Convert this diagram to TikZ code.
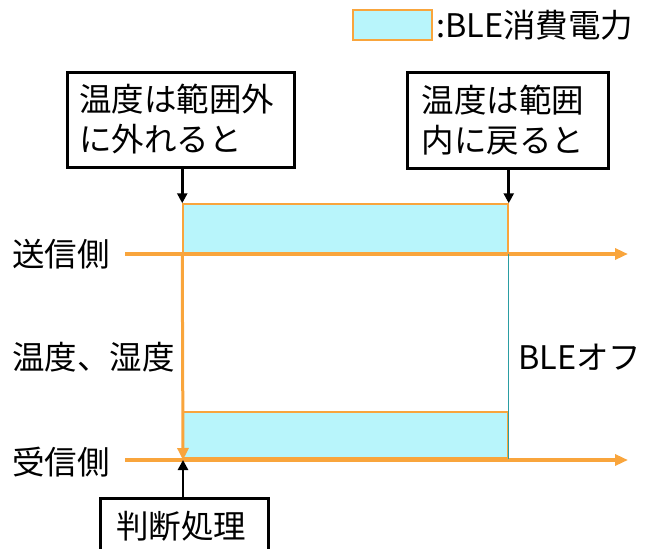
\documentclass[tikz,border=0pt]{standalone}
\usepackage{fontspec}
\setmainfont{Noto Sans CJK JP}
\usetikzlibrary{arrows.meta}
\definecolor{borange}{HTML}{F9A53C}
\definecolor{bcyan}{HTML}{B8F5FB}
\definecolor{bteal}{HTML}{2A9DA3}
\tikzset{
  txt/.style={font=\fontsize{32.5}{40}\selectfont, inner sep=0pt},
  callout/.style={draw=black, line width=3pt, fill=white, font=\fontsize{32.5}{40}\selectfont, align=left, inner sep=0pt},
  energy/.style={draw=borange, line width=1.5pt, fill=bcyan, inner sep=0pt},
  axis/.style={draw=borange, line width=3.2pt, -{Triangle[length=13pt,width=11pt]}},
  pointer/.style={draw=black, line width=2.6pt, -{Triangle[length=10pt,width=10pt]}},
}
\begin{document}
\begin{tikzpicture}[x=1pt,y=-1pt]
\useasboundingbox (0,0) rectangle (662,549);
\clip (0,0) rectangle (662,549);
% legend
\node[energy, minimum width=79pt, minimum height=30pt] (leg) at (392.5,25) {};
\node[txt, anchor=west] (legt) at (436,25) {:BLE消費電力};
% energy rectangles
\node[energy, minimum width=325pt, minimum height=49pt] (top) at (345.5,228.5) {};
\node[energy, minimum width=325pt, minimum height=46pt] (bot) at (345.5,435) {};
% axes
\coordinate (s0) at (125,254);
\coordinate (s1) at (628,254);
\coordinate (r0) at (125,460);
\coordinate (r1) at (628,460);
\draw[axis] (s0) -- (s1);
\draw[axis] (r0) -- (r1);
\draw[borange, line width=4.5pt] (top.south west) -- (top.south east);
\draw[borange, line width=4.5pt] (bot.south west) -- (bot.south east);
\draw[bteal, line width=1.3pt] (top.south east) -- (bot.south east);
\coordinate (vtip) at (183,460);
\draw[draw=borange, line width=3pt, -{Triangle[length=12pt,width=11pt]}] (top.south west) -- (vtip);
% labels
\node[txt, anchor=west] (send) at (12,254) {送信側};
\node[txt, anchor=west] (temp) at (12,357) {温度、湿度};
\node[txt, anchor=west] (recv) at (12,462) {受信側};
\node[txt, anchor=west] (off) at (518,357) {BLEオフ};
% callouts
\node[callout, minimum width=227pt, minimum height=95pt, text width=203pt] (c1) at (180.5,119.5) {温度は範囲外\\に外れると};
\node[callout, minimum width=201pt, minimum height=96pt, text width=172pt] (c2) at (507.5,120) {温度は範囲\\内に戻ると};
\node[callout, minimum width=168pt, minimum height=56pt, text width=136pt, anchor=north] (c3) at (184,497) {判断処理};
\draw[pointer] (c1.south -| top.north west) -- (top.north west);
\draw[pointer] (c2.south -| top.north east) -- (top.north east);
\draw[pointer] (c3.north -| vtip) -- (vtip);
\end{tikzpicture}
\end{document}
